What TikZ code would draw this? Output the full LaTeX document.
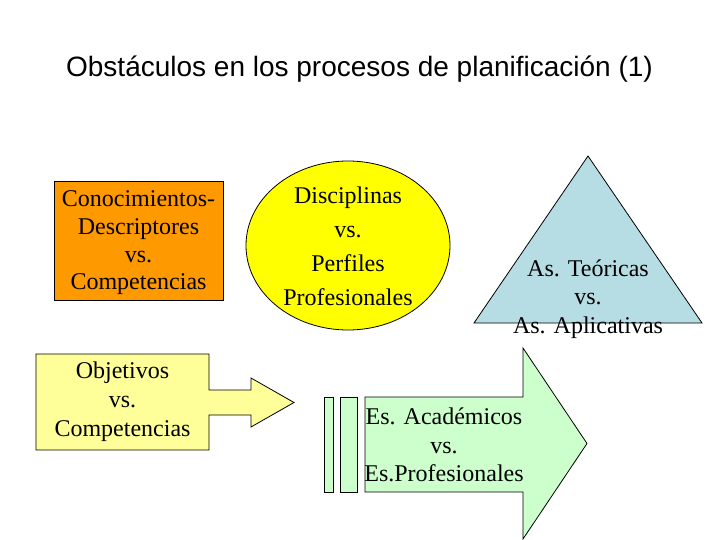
\documentclass[tikz,border=0pt]{standalone}
\usepackage{fontspec}
\setmainfont{Liberation Serif}
\newfontfamily\titlefont{Liberation Sans}
\usetikzlibrary{shapes.geometric}
\definecolor{orangebox}{RGB}{255,153,0}
\definecolor{yellowell}{RGB}{255,255,0}
\definecolor{lightyel}{RGB}{255,255,153}
\definecolor{lightblue}{RGB}{183,221,228}
\definecolor{lightgreen}{RGB}{204,255,204}
\tikzset{
  outl/.style={draw=black, line width=0.8pt},
  bodytxt/.style={align=center, inner sep=0pt, font=\fontsize{24}{28.5}\selectfont},
}
\begin{document}
\begin{tikzpicture}[x=1pt,y=-1pt]
\useasboundingbox[fill=white] (0,0) rectangle (720,540);
% title
\node[anchor=base, inner sep=0pt, font=\titlefont\fontsize{28}{32}\selectfont] (title) at (359.5,77) {Obstáculos en los procesos de planificación (1)};
% orange box
\node[outl, fill=orangebox, rectangle, minimum width=169pt, minimum height=119pt, inner sep=0pt] (obox) at (138.5,240.5) {};
\node[bodytxt, font=\fontsize{24}{27.7}\selectfont] (otxt) at (138.5,243) {Conocimientos-\\Descriptores\\vs.\\Competencias};
% ellipse
\node[outl, fill=yellowell, ellipse, minimum width=204pt, minimum height=169pt, inner sep=0pt] (ell) at (348,245.5) {};
\node[bodytxt, font=\fontsize{24}{34}\selectfont] (etxt) at (348,246) {Disciplinas\\vs.\\Perfiles\\Profesionales};
% triangle
\coordinate (tA) at (588,156);
\coordinate (tB) at (702,323);
\coordinate (tC) at (474,323);
\draw[outl, fill=lightblue] (tA) -- (tB) -- (tC) -- cycle;
\node[bodytxt] (ttxt) at (588,299) {As. Teóricas\\vs.\\As. Aplicativas};
% callout arrow box (Objetivos)
\draw[outl, fill=lightyel] (36,354) -- (209,354) -- (209,390) -- (251,390) -- (251,378) -- (294,402.5) -- (251,427) -- (251,415) -- (209,415) -- (209,450) -- (36,450) -- cycle;
\node[bodytxt, font=\fontsize{24}{29}\selectfont] (ytxt) at (122.5,402) {Objetivos\\vs.\\Competencias};
% striped green arrow
\draw[outl, fill=lightgreen] (324,397) rectangle (333,492);
\draw[outl, fill=lightgreen] (340,397) rectangle (357,492);
\draw[outl, fill=lightgreen] (365,397) -- (523,397) -- (523,348) -- (587,443.5) -- (523,539) -- (523,492) -- (365,492) -- cycle;
\node[bodytxt] (gtxt) at (444,445) {Es. Académicos\\vs.\\Es.Profesionales};
\end{tikzpicture}
\end{document}
